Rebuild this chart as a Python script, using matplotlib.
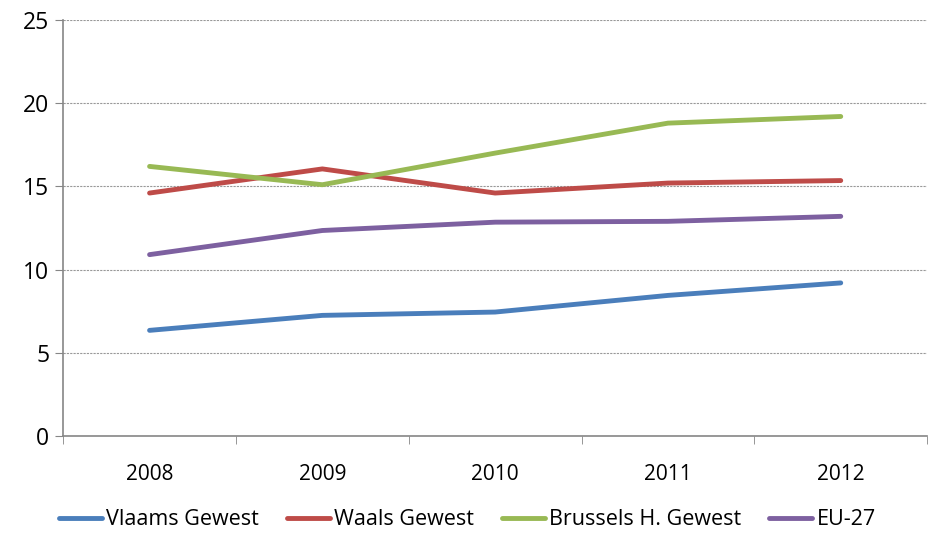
import matplotlib
matplotlib.use('Agg')
import matplotlib.pyplot as plt
import numpy as np

plt.rcParams['font.family'] = ['Open Sans', 'DejaVu Sans']

years = ['2008', '2009', '2010', '2011', '2012']
vlaams = [6.35, 7.25, 7.45, 8.45, 9.2]
waals = [14.6, 16.05, 14.6, 15.2, 15.35]
brussels = [16.2, 15.1, 17.0, 18.8, 19.2]
eu27 = [10.9, 12.35, 12.85, 12.9, 13.2]

labels = ['Vlaams Gewest', 'Waals Gewest', 'Brussels H. Gewest', 'EU-27']
colors = ['#4A7EBB', '#BE4B48', '#98B954', '#7D60A0']

fig = plt.figure(figsize=(9.29, 5.39), dpi=100)
ax = fig.add_axes([0.068, 0.191, 0.93, 0.772])

x = np.arange(len(years))
for vals, lab, col in zip([vlaams, waals, brussels, eu27], labels, colors):
    ax.plot(x, vals, color=col, lw=3.5, label=lab, solid_capstyle='round')

ax.set_xlim(-0.5, len(years) - 0.5)
ax.set_ylim(0, 25)
ax.set_yticks(range(0, 26, 5))
ax.set_xticks(x)
ax.set_xticklabels(years)
ax.set_xticks(np.arange(-0.5, len(years), 1), minor=True)
ax.tick_params(axis='x', which='major', length=0, pad=20, labelsize=15)
ax.tick_params(axis='x', which='minor', length=6, color='#868686', direction='out')
ax.tick_params(axis='y', length=6, color='#868686', labelsize=16.5, pad=4)

ax.yaxis.grid(True, color='#999999', ls=(0, (2, 1)), lw=0.8)
ax.set_axisbelow(True)
for s in ['top', 'right']:
    ax.spines[s].set_visible(False)
for s in ['left', 'bottom']:
    ax.spines[s].set_color('#868686')
    ax.spines[s].set_linewidth(1.2)

fig.legend(loc='lower center', bbox_to_anchor=(0.503, -0.02), ncol=4, frameon=False,
           fontsize=15.5, handlelength=2.0, handletextpad=0.2, columnspacing=1.3)

fig.savefig('out.png', dpi=100)
